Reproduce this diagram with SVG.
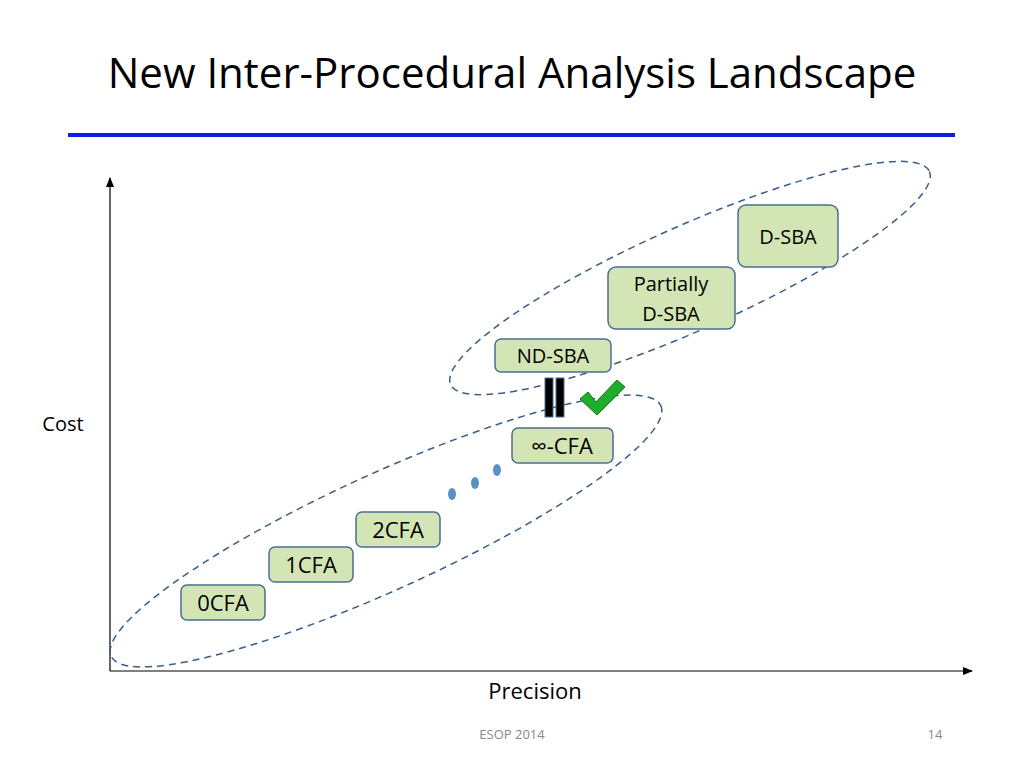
<svg xmlns="http://www.w3.org/2000/svg" width="1024" height="768" viewBox="0 0 1024 768">
<style>
.n{fill:#d3e5b5;stroke:#4a6f91;stroke-width:1.5}
.t{font-family:"Open Sans","Liberation Sans",sans-serif;fill:#000;text-anchor:middle}
.e{fill:none;stroke:#3a5d8a;stroke-width:1.5;stroke-dasharray:7 5}
</style>
<defs><marker id="a" markerWidth="10" markerHeight="8" refX="9" refY="4" orient="auto" markerUnits="userSpaceOnUse"><path d="M0,0L10,4L0,8Z" fill="#000"/></marker></defs>
<rect width="1024" height="768" fill="#fff"/>
<text x="512" y="88" class="t" font-size="42">New Inter-Procedural Analysis Landscape</text>
<line x1="68" y1="135" x2="955" y2="135" stroke="#0d1fe0" stroke-width="4"/>
<g id="connectors">
<line x1="110" y1="671" x2="110" y2="178" stroke="#000" stroke-width="1.2" marker-end="url(#a)"/>
<line x1="110" y1="671" x2="972" y2="671" stroke="#000" stroke-width="1.2" marker-end="url(#a)"/>
<ellipse class="e" cx="690" cy="278" rx="262" ry="52" transform="rotate(-24 690 278)"/>
<ellipse class="e" cx="386" cy="531" rx="302" ry="58" transform="rotate(-24.5 386 531)"/>
</g>
<text x="63" y="431" class="t" font-size="20">Cost</text>
<text x="535" y="699" class="t" font-size="22">Precision</text>
<text x="512" y="739" class="t" font-size="13" fill="#888" style="fill:#888">ESOP 2014</text>
<text x="935" y="739" class="t" font-size="13" style="fill:#888">14</text>
<g id="dsba"><rect class="n" x="738" y="205" width="100" height="62" rx="8"/><text x="788" y="244" class="t" font-size="20">D-SBA</text></g>
<g id="pdsba"><rect class="n" x="608" y="267" width="127" height="62" rx="8"/><text x="671" y="291" class="t" font-size="20">Partially</text><text x="671" y="321" class="t" font-size="20">D-SBA</text></g>
<g id="ndsba"><rect class="n" x="495" y="339" width="116" height="33" rx="6"/><text x="553" y="363" class="t" font-size="20">ND-SBA</text></g>
<g id="eq"><rect x="545" y="378" width="8" height="39" fill="#000" stroke="#4a6f91"/><rect x="556" y="378" width="8" height="39" fill="#000" stroke="#4a6f91"/>
<path d="M580,399 L588,392 L596,402 L617,380 L625,387 L597,415 Z" fill="#1fae2b" stroke="#0a7a14" stroke-width="1"/></g>
<g id="icfa"><rect class="n" x="512" y="428" width="101" height="35" rx="6"/><text x="562" y="454" class="t" font-size="22">∞-CFA</text></g>
<g id="dots" fill="#5b8fc7"><ellipse cx="452" cy="494" rx="4" ry="6"/><ellipse cx="475" cy="483" rx="4" ry="6"/><ellipse cx="497" cy="470" rx="4" ry="6"/></g>
<g id="c2"><rect class="n" x="356" y="512" width="84" height="35" rx="6"/><text x="398" y="538" class="t" font-size="22">2CFA</text></g>
<g id="c1"><rect class="n" x="269" y="547" width="84" height="35" rx="6"/><text x="311" y="573" class="t" font-size="22">1CFA</text></g>
<g id="c0"><rect class="n" x="181" y="585" width="84" height="35" rx="6"/><text x="223" y="611" class="t" font-size="22">0CFA</text></g>
</svg>
